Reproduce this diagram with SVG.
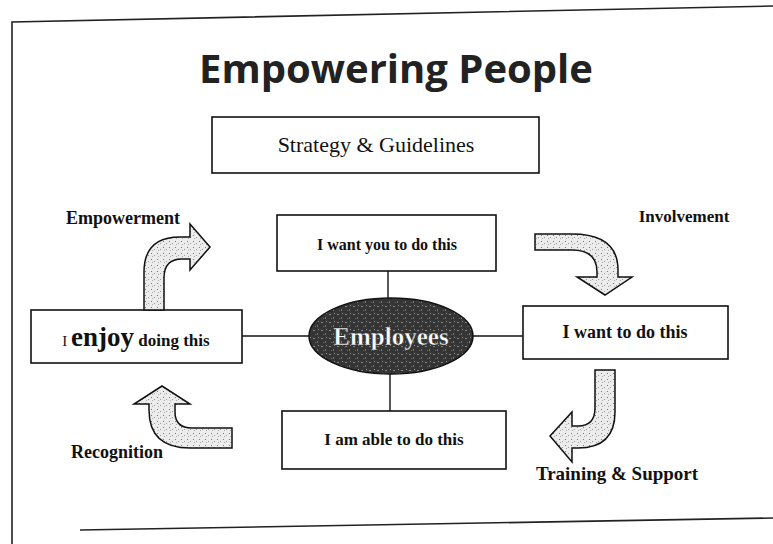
<svg xmlns="http://www.w3.org/2000/svg" width="773" height="544" viewBox="0 0 773 544">
<style>
.box{fill:#fff;stroke:#111;stroke-width:1.6}
.arrow{fill:url(#stipple);stroke:#111;stroke-width:1.5;stroke-linejoin:miter}
.lbl{font-family:"Liberation Serif","Times New Roman",serif;font-weight:bold;fill:#111}
.conn{stroke:#111;stroke-width:1.4;fill:none}
.frame{stroke:#222;stroke-width:1.6;fill:none}
</style>
<defs>
<pattern id="stipple" width="6" height="6" patternUnits="userSpaceOnUse">
<rect width="6" height="6" fill="#ececec"/>
<rect x="1" y="1" width="1" height="1" fill="#777"/>
<rect x="4" y="3" width="1" height="1" fill="#999"/>
<rect x="2" y="4" width="1" height="1" fill="#aaa"/>
</pattern>
<pattern id="speck" width="8" height="8" patternUnits="userSpaceOnUse">
<rect width="8" height="8" fill="#353535"/>
<rect x="1" y="2" width="2" height="1" fill="#8a8a8a"/>
<rect x="5" y="5" width="1" height="2" fill="#777"/>
<rect x="6" y="1" width="1" height="1" fill="#999"/>
<rect x="3" y="6" width="1" height="1" fill="#666"/>
</pattern>
</defs>
<rect width="773" height="544" fill="#fff"/>
<g id="frame">
<path class="frame" d="M12,544 L12,22 L773,6"/>
<path class="frame" d="M80,530 L773,518"/>
</g>
<g id="title">
<text x="396" y="83" text-anchor="middle" font-family="'Open Sans','DejaVu Sans',sans-serif" font-weight="bold" font-size="40" fill="#222">Empowering People</text>
</g>
<g id="connectors">
<line class="conn" x1="388" y1="271" x2="388" y2="298"/>
<line class="conn" x1="242" y1="336" x2="309" y2="336"/>
<line class="conn" x1="473" y1="336" x2="523" y2="336"/>
<line class="conn" x1="390" y1="374" x2="390" y2="411"/>
</g>
<g id="strategy">
<rect class="box" x="212" y="117" width="327" height="56"/>
<text x="376" y="152" text-anchor="middle" font-family="'Liberation Serif','Times New Roman',serif" font-size="22" fill="#111">Strategy &amp; Guidelines</text>
</g>
<g id="want-you">
<rect class="box" x="277" y="215" width="219" height="56"/>
<text class="lbl" x="387" y="250" text-anchor="middle" font-size="16">I want you to do this</text>
</g>
<g id="employees">
<ellipse cx="391" cy="336" rx="82" ry="38" fill="url(#speck)" stroke="#111" stroke-width="1.5"/>
<text x="391" y="345" text-anchor="middle" font-family="'Liberation Serif','Times New Roman',serif" font-weight="bold" font-size="25" fill="#fff" stroke="#222" stroke-width="0.4">Employees</text>
</g>
<g id="enjoy">
<rect class="box" x="31" y="310" width="211" height="53"/>
<text class="lbl" x="136" y="346" text-anchor="middle"><tspan font-size="15" font-weight="normal">I </tspan><tspan font-size="27">enjoy</tspan><tspan font-size="17"> doing this</tspan></text>
</g>
<g id="want-to">
<rect class="box" x="523" y="306" width="205" height="53"/>
<text class="lbl" x="625" y="338" text-anchor="middle" font-size="18">I want to do this</text>
</g>
<g id="able">
<rect class="box" x="282" y="411" width="224" height="58"/>
<text class="lbl" x="394" y="445" text-anchor="middle" font-size="17">I am able to do this</text>
</g>
<g id="empowerment">
<path class="arrow" d="M144,310 L144,272 Q144,237 180,237 L190,237 L190,224 L210,247 L190,270 L190,259 L182,259 Q164,259 164,278 L164,310 Z"/>
<text class="lbl" x="123" y="224" text-anchor="middle" font-size="18">Empowerment</text>
</g>
<g id="involvement">
<path class="arrow" d="M535,234 L572,234 Q618,234 618,270 L618,277 L632,277 L605,295 L577,277 L597,277 L597,272 Q597,250 572,250 L535,250 Z"/>
<text class="lbl" x="684" y="222" text-anchor="middle" font-size="17">Involvement</text>
</g>
<g id="training">
<path class="arrow" d="M595,370 L615,370 L615,412 Q615,448 578,448 L572,448 L572,462 L550,436 L572,412 L572,426 L578,426 Q595,426 595,408 Z"/>
<text class="lbl" x="617" y="480" text-anchor="middle" font-size="19">Training &amp; Support</text>
</g>
<g id="recognition">
<path class="arrow" d="M232,428 L232,448 L190,448 Q149,448 149,410 L149,404 L134,404 L162,386 L190,404 L175,404 L175,412 Q175,428 192,428 Z"/>
<text class="lbl" x="117" y="458" text-anchor="middle" font-size="18">Recognition</text>
</g>
</svg>
